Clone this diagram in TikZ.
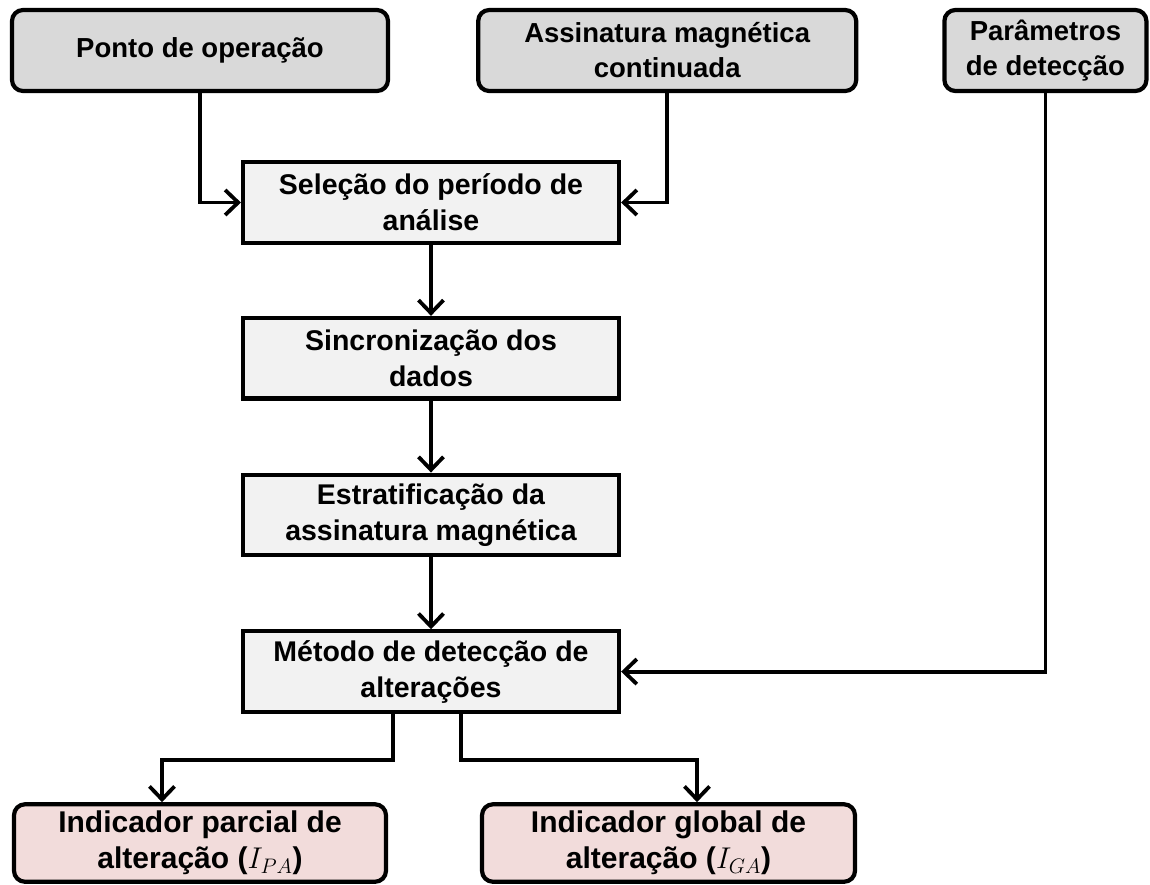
\RequirePackage{fix-cm}
\documentclass[tikz,border=0pt]{standalone}
\usepackage{fontspec}
\setmainfont{Liberation Sans}
\usepackage{tikz}
\usetikzlibrary{arrows.meta,positioning}
\definecolor{InputGray}{HTML}{D9D9D9}
\definecolor{StepGray}{HTML}{F2F2F2}
\definecolor{OutputRose}{HTML}{F2DCDB}
\tikzset{
    % rounded boxes for the inputs
    inputbox/.style={
        rectangle,
        rounded corners=11pt,
        draw=black,
        fill=InputGray,
        line width=4.2pt,
        minimum height=81pt,
        inner sep=2pt,
        align=center,
        font=\fontsize{27.5}{35}\selectfont\bfseries
    },
    stepbox/.style={
        rectangle,
        draw=black,
        fill=StepGray,
        line width=4.2pt,
        minimum width=376pt,
        minimum height=80.5pt,
        inner sep=2pt,
        align=center,
        font=\fontsize{28.5}{36}\selectfont\bfseries
    },
    outputbox/.style={
        rectangle,
        rounded corners=11pt,
        draw=black,
        fill=OutputRose,
        line width=4.2pt,
        minimum height=77.5pt,
        inner sep=2pt,
        align=center,
        font=\fontsize{30}{36}\selectfont\bfseries
    },
    arrow/.style={
        -{Straight Barb[length=13pt,width=25pt]},
        line width=3.8pt,
        color=black
    }
}
\begin{document}
\begin{tikzpicture}[x=1pt, y=-1pt]
    \useasboundingbox (0,0) rectangle (1150,884);

    \node[inputbox, minimum width=376pt] (ponto) at (200,50.5) {Ponto de operação};
    \node[inputbox, minimum width=378pt, right=86pt of ponto] (assinatura) {
        Assinatura magnética\\
        continuada
    };
    \node[inputbox, minimum width=202pt, right=84pt of assinatura] (parametros) {
        Parâmetros\\
        de detecção
    };

    \node[stepbox] (selecao) at (431,202.5) {
        Seleção do período de\\
        análise
    };
    \node[stepbox, below=71pt of selecao] (sincronizacao) {
        Sincronização dos\\
        dados
    };
    \node[stepbox, below=72pt of sincronizacao] (estratificacao) {
        Estratificação da\\
        assinatura magnética
    };
    \node[stepbox, below=72pt of estratificacao] (metodo) {
        Método de detecção de\\
        alterações
    };

    \node[outputbox, minimum width=372pt] (parcial) at (200,843) {
        Indicador parcial de\\
        alteração ($I_{PA}$)
    };
    \node[outputbox, minimum width=373pt] (global) at (668.5,843) {
        Indicador global de\\
        alteração ($I_{GA}$)
    };

    \draw[arrow] (ponto.south) |- (selecao.west);
    \draw[arrow] (assinatura.south) |- (selecao.east);
    \draw[arrow] (parametros.south) |- (metodo.east);
    \draw[arrow] (selecao) -- (sincronizacao);
    \draw[arrow] (sincronizacao) -- (estratificacao);
    \draw[arrow] (estratificacao) -- (metodo);
    \draw[arrow] ([xshift=-38pt]metodo.south) -- ++(0,46) -| ([xshift=-38pt]parcial.north);
    \draw[arrow] ([xshift=30pt]metodo.south) -- ++(0,46) -| ([xshift=28.5pt]global.north);
\end{tikzpicture}
\end{document}
